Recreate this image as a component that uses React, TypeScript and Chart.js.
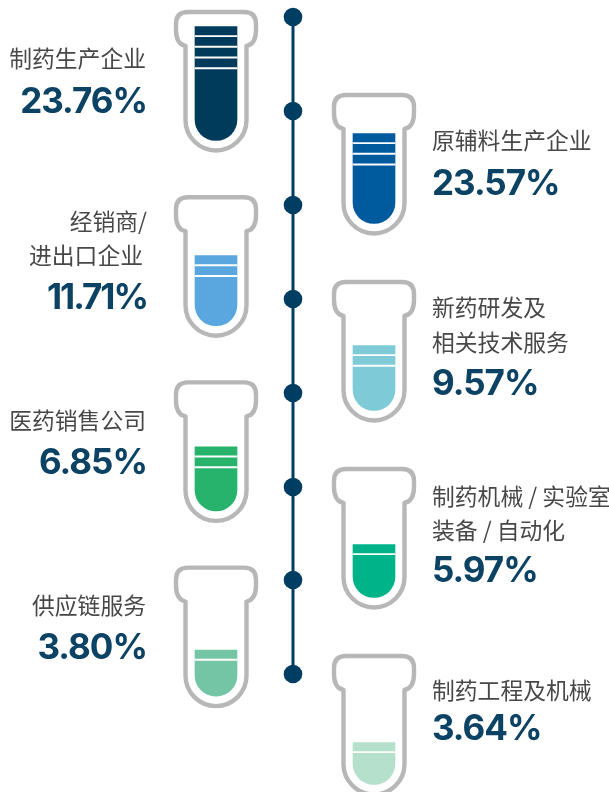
import React, { useEffect, useRef } from "react";
import { Chart, registerables } from "chart.js";

Chart.register(...registerables);

// ---- data ----
const categories = [
  ["制药生产企业"],
  ["原辅料生产企业"],
  ["经销商/", "进出口企业"],
  ["新药研发及", "相关技术服务"],
  ["医药销售公司"],
  ["制药机械 / 实验室", "装备 / 自动化"],
  ["供应链服务"],
  ["制药工程及机械"],
];
const percentLabels = ["23.76%", "23.57%", "11.71%", "9.57%", "6.85%", "5.97%", "3.80%", "3.64%"];
const fillLevels = [114, 90, 70, 65, 64, 53, 46, 42];
const stripeCounts = [4, 3, 2, 2, 2, 1, 1, 1];
const nodeValues = [17, 111, 205, 299, 393, 487, 580, 674];

// ---- layout and style ----
const W = 609;
const H = 792;
const fillColors = ["#003b5c", "#005a9e", "#5aa7e0", "#7ecbd7", "#27b36b", "#00b388", "#74c5a5", "#b5e0cc"];
const leftX = 216;
const rightX = 374;
const spineX = 293;
const tubeX = categories.map((_, i) => (i % 2 === 0 ? leftX : rightX));
const tubeTop = categories.map((_, i) =>
  i % 2 === 0 ? 10 + 185.2 * (i / 2) : 93 + 187 * ((i - 1) / 2)
);
const labelOffsets = [[48], [47], [26, 60], [27, 62], [40], [29, 63], [40], [36]];
const percentOffsets = [92, 91, 103, 104, 83, 104, 83, 75];
const percentTracking = [-1, -1, -2, -1, -1, -1, -1, -1];
const leftTextEdge = 146;
const rightTextEdge = 432;
const leftLineNudge = [[0], [0], [1, -3], [0], [0], [0], [0], [0]];

const liquidBottom = (i: number) => tubeTop[i] + 130.5;

const liquidData = fillLevels.map((v, i) => ({
  x: tubeX[i],
  y: [liquidBottom(i) - v, liquidBottom(i)],
}));
const stripeData = stripeCounts.flatMap((n, i) =>
  Array.from({ length: n }, (_, k) => {
    const y = liquidBottom(i) - fillLevels[i] + 9 + 10.7 * k;
    return { x: tubeX[i], y: [y, y + 1.2] };
  })
);
const nodeData = nodeValues.map((y) => ({ x: spineX, y }));

function tubePath(ctx: CanvasRenderingContext2D, cx: number, top: number) {
  const y0 = top + 2;
  const capHalf = 40;
  const bodyHalf = 30.5;
  const r = 12;
  const shoulder = y0 + 34;
  const arcY = y0 + 108;
  ctx.beginPath();
  ctx.moveTo(cx - bodyHalf, arcY);
  ctx.lineTo(cx - bodyHalf, shoulder);
  ctx.quadraticCurveTo(cx - capHalf, shoulder - 2, cx - capHalf, y0 + 18);
  ctx.lineTo(cx - capHalf, y0 + r);
  ctx.quadraticCurveTo(cx - capHalf, y0, cx - capHalf + r, y0);
  ctx.lineTo(cx + capHalf - r, y0);
  ctx.quadraticCurveTo(cx + capHalf, y0, cx + capHalf, y0 + r);
  ctx.lineTo(cx + capHalf, y0 + 18);
  ctx.quadraticCurveTo(cx + capHalf, shoulder - 2, cx + bodyHalf, shoulder);
  ctx.lineTo(cx + bodyHalf, arcY);
  ctx.arc(cx, arcY, bodyHalf, 0, Math.PI);
  ctx.closePath();
}

const tubesPlugin = {
  id: "tubes",
  beforeDatasetsDraw(chart: any) {
    const { ctx, scales } = chart;
    ctx.save();
    ctx.strokeStyle = "#b7b7b7";
    ctx.lineWidth = 4.4;
    ctx.lineJoin = "round";
    tubeX.forEach((x, i) => {
      tubePath(ctx, scales.x.getPixelForValue(x), scales.y.getPixelForValue(tubeTop[i]));
      ctx.stroke();
    });
    ctx.restore();
  },
};

const textPlugin = {
  id: "texts",
  afterDatasetsDraw(chart: any) {
    const { ctx } = chart;
    ctx.save();
    ctx.textBaseline = "middle";
    categories.forEach((lines, i) => {
      const left = i % 2 === 0;
      ctx.textAlign = left ? "right" : "left";
      const x = left ? leftTextEdge : rightTextEdge;
      ctx.fillStyle = "#484848";
      ctx.letterSpacing = "0px";
      ctx.font = '22.8px "Noto Sans CJK SC"';
      lines.forEach((line, k) => {
        ctx.fillText(line, x + (left ? leftLineNudge[i][k] ?? 0 : 0), tubeTop[i] + labelOffsets[i][k]);
      });
      ctx.fillStyle = "#0c4263";
      ctx.letterSpacing = `${percentTracking[i]}px`;
      ctx.font = "700 35px Inter";
      ctx.fillText(percentLabels[i], x + (left ? 1 : 0), tubeTop[i] + percentOffsets[i]);
    });
    ctx.restore();
  },
};

export default function App() {
  const ref = useRef<HTMLCanvasElement>(null);
  useEffect(() => {
    document.body.style.margin = "0";
    const chart = new Chart(ref.current!, {
      type: "bar",
      data: {
        datasets: [
          {
            label: "进度线",
            type: "line",
            data: nodeData,
            borderColor: "#003d63",
            backgroundColor: "#003d63",
            borderWidth: 3,
            pointRadius: 9.3,
            pointBorderWidth: 0,
            pointBackgroundColor: "#003d63",
            tension: 0,
            order: 0,
          },
          {
            label: "分隔",
            data: stripeData,
            backgroundColor: "#ffffff",
            barThickness: 42,
            grouped: false,
            order: 1,
          },
          {
            label: "占比",
            data: liquidData,
            backgroundColor: fillColors,
            barThickness: 42,
            grouped: false,
            borderSkipped: false,
            borderRadius: { topLeft: 0, topRight: 0, bottomLeft: 21, bottomRight: 21 },
            order: 2,
          },
        ],
      } as any,
      options: {
        responsive: false,
        animation: false,
        layout: { padding: 0, autoPadding: false },
        plugins: { legend: { display: false }, tooltip: { enabled: false } },
        scales: {
          x: { type: "linear", min: 0, max: W, display: false, offset: false },
          y: { type: "linear", min: 0, max: H, reverse: true, display: false },
        },
      } as any,
      plugins: [tubesPlugin, textPlugin],
    });
    return () => chart.destroy();
  }, []);
  return <canvas ref={ref} width={W} height={H} style={{ display: "block" }} />;
}
